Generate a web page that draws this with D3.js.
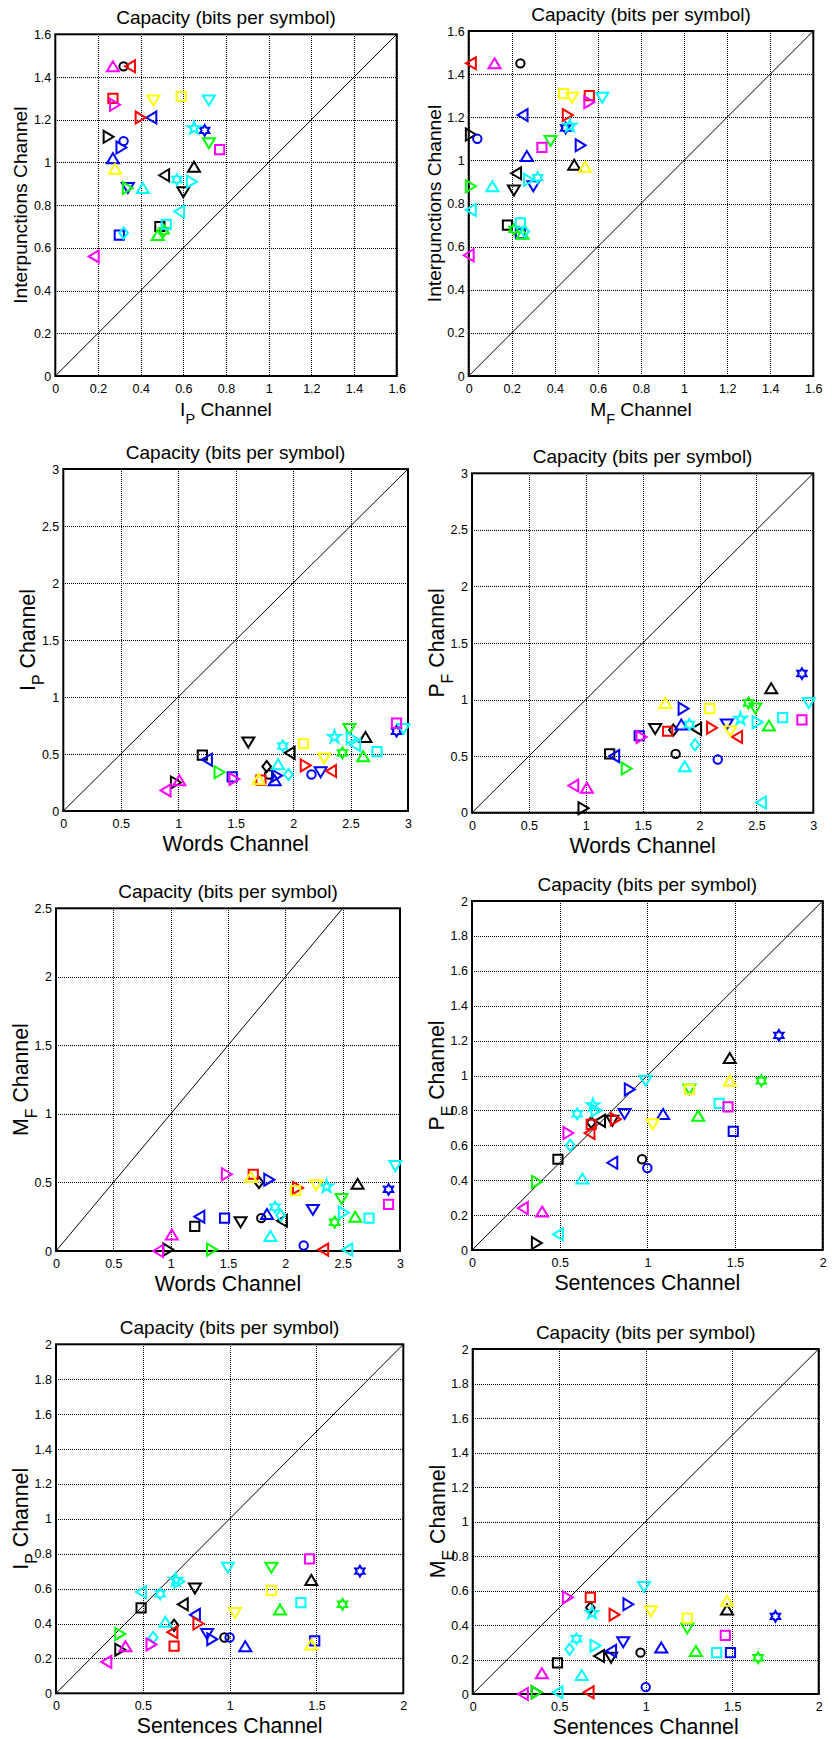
<!DOCTYPE html>
<html><head><meta charset="utf-8">
<script src="https://cdn.jsdelivr.net/npm/d3@7"></script>
<style>
body{margin:0;background:#fff}
svg{display:block}
text{font-family:"Liberation Sans",Arial,Helvetica,sans-serif;fill:#000}
</style>
</head><body>
<svg id="chart" width="832" height="1739"></svg>
<script>
// ---------- DATA (one entry per text / marker) ----------
const itemColor  = ["k","k","k","k","k","k","k", "b","b","b","b","b","b","b", "g","g","g","g", "r","r","r", "c","c","c","c","c","c","c","c", "m","m","m","m", "y","y","y"];
const itemMarker = ["o","d",">","<","^","v","s", "o","<",">","^","v","s","h", ">","^","v","h", "<",">","s", "<",">","^","v","s","d","p","h", "<","^",">","s", "^","v","s"];
const wordsCh     = [1.79,1.77,0.98,1.97,2.63,1.61,1.21, 2.16,1.25,1.86,1.84,2.24,1.47,2.90, 1.36,2.61,2.49,2.43, 2.33,2.11,1.72, 2.54,2.51,1.87,2.96,2.73,1.96,2.36,1.91, 0.89,1.01,1.49,2.90, 1.70,2.27,2.09];
const sentencesCh = [0.97,0.68,0.37,0.73,1.47,0.80,0.49, 1.00,0.80,0.90,1.09,0.87,1.49,1.75, 0.37,1.29,1.24,1.65, 0.67,0.82,0.68, 0.49,0.71,0.63,0.99,1.41,0.56,0.69,0.60, 0.29,0.40,0.55,1.46, 1.47,1.03,1.24];
const ipCh        = [0.32,0.39,0.25,0.51,0.65,0.60,0.49, 0.32,0.45,0.31,0.27,0.34,0.30,0.70, 0.34,0.48,0.72,0.51, 0.35,0.40,0.27, 0.58,0.64,0.41,0.72,0.52,0.32,0.65,0.57, 0.18,0.27,0.28,0.77, 0.28,0.46,0.59];
const mfCh        = [0.24,0.50,0.01,0.22,0.49,0.21,0.18, 0.04,0.25,0.52,0.27,0.30,0.24,0.45, 0.01,0.25,0.38,0.21, 0.01,0.46,0.56, 0.01,0.28,0.11,0.62,0.24,0.26,0.47,0.32, 0.00,0.12,0.56,0.34, 0.54,0.48,0.44];
const pfCh        = [0.52,0.73,0.04,0.74,1.10,0.74,0.52, 0.47,0.50,0.92,0.78,0.78,0.68,1.23, 0.39,0.77,0.92,0.97, 0.67,0.75,0.72, 0.09,0.80,0.41,0.97,0.84,0.60,0.83,0.78, 0.24,0.22,0.67,0.82, 0.97,0.72,0.92];
const interpCh    = [1.45,null,1.12,0.94,0.98,0.86,0.70, 1.10,1.21,1.07,1.02,0.88,0.66,1.15, 0.88,0.66,1.09,0.68, 1.45,1.21,1.30, 0.77,0.91,0.88,1.29,0.71,0.67,1.16,0.92, 0.56,1.45,1.27,1.06, 0.97,1.29,1.31];

// tick values and labels
const ticks16 = [0,0.2,0.4,0.6,0.8,1,1.2,1.4,1.6];
const ticks16Labels = ["0","0.2","0.4","0.6","0.8","1","1.2","1.4","1.6"];
const ticks30 = [0,0.5,1,1.5,2,2.5,3];
const ticks30Labels = ["0","0.5","1","1.5","2","2.5","3"];
const ticks25 = [0,0.5,1,1.5,2,2.5];
const ticks25Labels = ["0","0.5","1","1.5","2","2.5"];
const ticks20h = [0,0.5,1,1.5,2];
const ticks20hLabels = ["0","0.5","1","1.5","2"];
const ticks20 = [0,0.2,0.4,0.6,0.8,1,1.2,1.4,1.6,1.8,2];
const ticks20Labels = ["0","0.2","0.4","0.6","0.8","1","1.2","1.4","1.6","1.8","2"];
const titleText = "Capacity (bits per symbol)";

// ---------- LAYOUT ----------
const colorMap = {b:"#0000ff", g:"#00ff00", r:"#ff0000", c:"#00ffff", m:"#ff00ff", y:"#ffff00", k:"#000000"};
const panels = [
  {xs:ipCh, ys:interpCh, xmax:1.6, ymax:1.6, xt:ticks16, xtl:ticks16Labels, yt:ticks16, ytl:ticks16Labels,
   xl:["I","P"," Channel"], yl:["Interpunctions Channel"], lf:19.2, box:[55.3,34.3,396.7,376]},
  {xs:mfCh, ys:interpCh, xmax:1.6, ymax:1.6, xt:ticks16, xtl:ticks16Labels, yt:ticks16, ytl:ticks16Labels,
   xl:["M","F"," Channel"], yl:["Interpunctions Channel"], lf:19.2, box:[468.7,31,813.3,376]},
  {xs:wordsCh, ys:ipCh, xmax:3, ymax:3, xt:ticks30, xtl:ticks30Labels, yt:ticks30, ytl:ticks30Labels,
   xl:["Words Channel"], yl:["I","P"," Channel"], lf:21.3, box:[63.3,469,408,811]},
  {xs:wordsCh, ys:pfCh, xmax:3, ymax:3, xt:ticks30, xtl:ticks30Labels, yt:ticks30, ytl:ticks30Labels,
   xl:["Words Channel"], yl:["P","F"," Channel"], lf:21.3, box:[472,473.3,813.3,812.7]},
  {xs:wordsCh, ys:mfCh, xmax:3, ymax:2.5, xt:ticks30, xtl:ticks30Labels, yt:ticks25, ytl:ticks25Labels,
   xl:["Words Channel"], yl:["M","F"," Channel"], lf:21.3, box:[56,908.3,400,1251]},
  {xs:sentencesCh, ys:pfCh, xmax:2, ymax:2, xt:ticks20h, xtl:ticks20hLabels, yt:ticks20, ytl:ticks20Labels,
   xl:["Sentences Channel"], yl:["P","E"," Channel"], lf:21.3, box:[472,901,822.7,1250]},
  {xs:sentencesCh, ys:ipCh, xmax:2, ymax:2, xt:ticks20h, xtl:ticks20hLabels, yt:ticks20, ytl:ticks20Labels,
   xl:["Sentences Channel"], yl:["I","P"," Channel"], lf:21.3, box:[56,1344.3,403.3,1693.3]},
  {xs:sentencesCh, ys:mfCh, xmax:2, ymax:2, xt:ticks20h, xtl:ticks20hLabels, yt:ticks20, ytl:ticks20Labels,
   xl:["Sentences Channel"], yl:["M","E"," Channel"], lf:21.3, box:[472.7,1349,818.7,1694]}
];

function poly(pts){ return "M" + pts.map(p => p[0].toFixed(2)+","+p[1].toFixed(2)).join("L") + "Z"; }
function starPts(n, R, r){
  const pts = [];
  for (let i = 0; i < 2*n; i++){
    const a = -Math.PI/2 + i*Math.PI/n;
    const rr = i%2===0 ? R : r;
    pts.push([rr*Math.cos(a), rr*Math.sin(a)]);
  }
  return pts;
}
function markerPath(m){
  switch(m){
    case "o": return d3.symbol(d3.symbolCircle, Math.PI*4.2*4.2)();
    case "s": return poly([[-4.6,-4.6],[4.6,-4.6],[4.6,4.6],[-4.6,4.6]]);
    case "d": return poly([[0,-5.6],[4.3,0],[0,5.6],[-4.3,0]]);
    case "^": return poly([[0,-5],[6,5],[-6,5]]);
    case "v": return poly([[0,5],[6,-5],[-6,-5]]);
    case "<": return poly([[-5,0],[5,-6],[5,6]]);
    case ">": return poly([[5,0],[-5,-6],[-5,6]]);
    case "p": return poly(starPts(5, 6.6, 2.6));
    case "h": return poly(starPts(6, 5.4, 3.1));
  }
}

const svg = d3.select("#chart");

panels.forEach(p => {
  const [x0,y0,x1,y1] = p.box;
  const xS = d3.scaleLinear().domain([0,p.xmax]).range([x0,x1]);
  const yS = d3.scaleLinear().domain([0,p.ymax]).range([y1,y0]);
  const g = svg.append("g");

  // grid
  g.append("g").selectAll("line").data(p.xt).join("line")
    .attr("x1", d => Math.round(xS(d))+0.5).attr("x2", d => Math.round(xS(d))+0.5)
    .attr("y1", y0).attr("y2", y1)
    .attr("stroke","#000").attr("stroke-width",1).attr("stroke-dasharray","1,1").attr("shape-rendering","crispEdges");
  g.append("g").selectAll("line").data(p.yt).join("line")
    .attr("y1", d => Math.round(yS(d))+0.5).attr("y2", d => Math.round(yS(d))+0.5)
    .attr("x1", x0).attr("x2", x1)
    .attr("stroke","#000").attr("stroke-width",1).attr("stroke-dasharray","1,1").attr("shape-rendering","crispEdges");

  // diagonal y = x
  const dmax = Math.min(p.xmax, p.ymax);
  g.append("line")
    .attr("x1", xS(0)).attr("y1", yS(0)).attr("x2", xS(dmax)).attr("y2", yS(dmax))
    .attr("stroke","#000").attr("stroke-width",1);

  // box
  g.append("rect").attr("x",x0).attr("y",y0).attr("width",x1-x0).attr("height",y1-y0)
    .attr("fill","none").attr("stroke","#000").attr("stroke-width",2);

  // axes tick labels
  const xAx = d3.axisBottom(xS).tickValues(p.xt).tickFormat((d,i) => p.xtl[i]).tickSize(0).tickPadding(8);
  const yAx = d3.axisLeft(yS).tickValues(p.yt).tickFormat((d,i) => p.ytl[i]).tickSize(0).tickPadding(4);
  const gx = g.append("g").attr("transform",`translate(0,${y1})`).call(xAx);
  const gy = g.append("g").attr("transform",`translate(${x0},0)`).call(yAx);
  [gx,gy].forEach(a => {
    a.select(".domain").remove();
    a.selectAll("text").attr("font-size",12.5).attr("font-family",'"Liberation Sans",Arial,sans-serif').attr("fill","#000");
  });

  // markers
  const pts = p.xs.map((v,i) => ({x:v, y:p.ys[i], c:itemColor[i], m:itemMarker[i]}))
                  .filter(d => d.x != null && d.y != null);
  g.append("g").selectAll("path").data(pts).join("path")
    .attr("d", d => markerPath(d.m))
    .attr("transform", d => `translate(${xS(d.x)},${yS(d.y)})`)
    .attr("fill","none").attr("stroke", d => colorMap[d.c]).attr("stroke-width",2)
    .attr("stroke-linejoin","miter");

  // title
  g.append("text").attr("x",(x0+x1)/2).attr("y",y0-10.5).attr("text-anchor","middle")
    .attr("font-size",19).text(titleText);

  // label helper
  function addLabel(t, parts){
    const lf = p.lf;
    t.attr("font-size", lf).attr("text-anchor","middle");
    t.append("tspan").text(parts[0]);
    if (parts.length > 1){
      t.append("tspan").attr("font-size", lf*0.75).attr("dy", lf*0.42).text(parts[1]);
      t.append("tspan").attr("dy", -lf*0.42).text(parts[2]);
    }
  }
  addLabel(g.append("text").attr("x",(x0+x1)/2).attr("y",y1+40), p.xl);
  addLabel(g.append("text").attr("transform",`translate(${x0-28},${(y0+y1)/2}) rotate(-90)`), p.yl);
});
</script>
</body></html>
